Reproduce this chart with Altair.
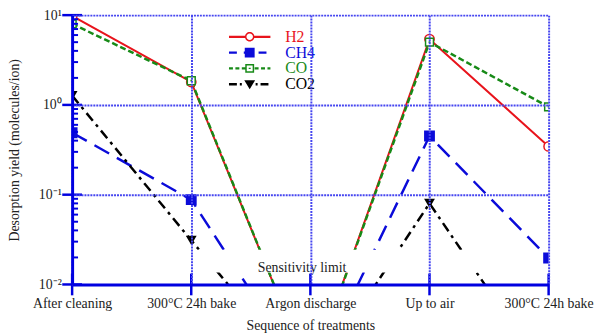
import json
import altair as alt
import pandas as pd

# ---------------- data ----------------
treatments = ["After cleaning", "300°C 24h bake", "Argon discharge", "Up to air", "300°C 24h bake"]
series = ["H2", "CH4", "CO", "CO2"]
h2 = [9.8, 1.8, 0.001, 5.4, 0.345]
ch4 = [0.49, 0.088, 0.0008, 0.45, 0.0197]
co = [8.0, 1.86, 0.001, 5.0, 0.95]
co2 = [1.27, 0.031, 0.0008, 0.080, 0.0009]

decade_ticks = [0.01, 0.1, 1, 10]
decade_labels = ["10⁻²", "10⁻¹", "10⁰", "10¹"]
minor_ticks = [m * 10.0 ** e for e in (-2, -1, 0) for m in range(2, 10)]

sensitivity_text = "Sensitivity limit"
sensitivity_band = [0.0136, 0.0244]
sensitivity_text_at = [1.93, 0.01393]

# ---------------- styles ----------------
FONT = "Liberation Serif"
colors = {"H2": "#e8141c", "CH4": "#0b0bd9", "CO": "#178a17", "CO2": "#000000"}
dashes = {"CH4": [17, 9], "CO": [6, 3], "CO2": [10, 5, 3, 5]}
widths = {"H2": 2, "CH4": 2.5, "CO": 2.5, "CO2": 2.5}
AXIS_BLUE = "#0000e0"
GRID_BLUE = "#4646f0"
W, H = 483, 273

rows = []
for s, vals in zip(series, [h2, ch4, co, co2]):
    for i, v in enumerate(vals):
        rows.append({"series": s, "step": i, "value": v})
df = pd.DataFrame(rows)

xs = alt.Scale(domain=[0, len(treatments) - 1], nice=False, zero=False)
ys = alt.Scale(type="log", domain=[decade_ticks[0], decade_ticks[-1]], nice=False)

x_label_expr = json.dumps(treatments, ensure_ascii=False) + "[datum.value]"
y_label_expr = " : ".join(
    f"abs(log(datum.value)/LN10 - ({e})) < 0.01 ? '{lab}'" for e, lab in zip([-2, -1, 0, 1], decade_labels)
) + " : ''"

xaxis = alt.Axis(
    values=list(range(len(treatments))), labelExpr=x_label_expr,
    grid=True, gridColor=GRID_BLUE, gridDash=[2, 1], gridWidth=2,
    domainColor=AXIS_BLUE, domainWidth=3, ticks=False,
    labelFont=FONT, labelFontSize=14, labelColor="#222222", labelPadding=12,
    labelFlush=False, labelOverlap=False,
    title="Sequence of treatments", titleFont=FONT, titleFontSize=14,
    titleFontWeight="normal", titleColor="#222222",
    titleX=W / 2, titleY=42, titleBaseline="middle", titleAlign="center", zindex=1,
)
yaxis = alt.Axis(
    values=decade_ticks, labelExpr=y_label_expr,
    grid=True, gridColor=GRID_BLUE, gridDash=[2, 1], gridWidth=2,
    domainColor=AXIS_BLUE, domainWidth=3, ticks=False,
    labelFont=FONT, labelFontSize=14, labelColor="#222222", labelPadding=11,
    labelFlush=False, labelOverlap=False,
    title="Desorption yield (molecules/ion)", titleFont=FONT, titleFontSize=14,
    titleFontWeight="normal", titleColor="#222222",
    titleX=-58, titleY=H / 2, titleAngle=270, titleBaseline="middle", titleAlign="center", zindex=1,
)


def X(field):
    return alt.X(field, type="quantitative", scale=xs, axis=xaxis)


def Y(field):
    return alt.Y(field, type="quantitative", scale=ys, axis=yaxis)


layers = []

# lines
for s in series:
    kw = dict(color=colors[s], strokeWidth=widths[s], clip=True)
    if s in dashes:
        kw["strokeDash"] = dashes[s]
    layers.append(
        alt.Chart(df).transform_filter(alt.datum.series == s)
        .mark_line(**kw).encode(x=X("step"), y=Y("value"))
    )

# sensitivity limit box + label
band_df = pd.DataFrame({"x0": [0], "x1": [len(treatments) - 1],
                        "y0": [sensitivity_band[0]], "y1": [sensitivity_band[1]]})
layers.append(
    alt.Chart(band_df).mark_rect(color="white", opacity=1)
    .encode(x=X("x0"), x2="x1", y=Y("y0"), y2="y1")
)
txt_df = pd.DataFrame({"x": [sensitivity_text_at[0]], "y": [sensitivity_text_at[1]], "t": [sensitivity_text]})
layers.append(
    alt.Chart(txt_df).mark_text(font=FONT, fontSize=14, color="#222222", align="center", baseline="alphabetic")
    .encode(x=X("x"), y=Y("y"), text="t:N")
)

# markers
def pts(s, **kw):
    return (alt.Chart(df).transform_filter(alt.datum.series == s)
            .mark_point(clip=True, opacity=1, **kw).encode(x=X("step"), y=Y("value")))

layers.append(pts("H2", shape="circle", size=90, fill="white", stroke=colors["H2"], strokeWidth=1.5, filled=False))
layers.append(pts("CH4", shape="square", size=121, filled=True, color=colors["CH4"], strokeWidth=0))
layers.append(pts("CO2", shape="triangle-down", size=120, filled=True, color=colors["CO2"], strokeWidth=0))
layers.append(pts("CO", shape="square", size=64, fill="white", stroke=colors["CO"], strokeWidth=1.5, filled=False))
layers.append(pts("CO", shape="square", size=3, filled=True, color=colors["CO"], strokeWidth=0))

# axis ticks (drawn crossing the axis lines)
xt_df = pd.DataFrame({"t": list(range(len(treatments)))})
layers.append(
    alt.Chart(xt_df).mark_rule(color=AXIS_BLUE, strokeWidth=2.5)
    .encode(x=X("t"), y=alt.value(H - 11), y2=alt.value(H + 11))
)
yt_df = pd.DataFrame({"t": decade_ticks})
layers.append(
    alt.Chart(yt_df).mark_rule(color=AXIS_BLUE, strokeWidth=2.5)
    .encode(y=Y("t"), x=alt.value(-10), x2=alt.value(10))
)
ym_df = pd.DataFrame({"t": minor_ticks})
layers.append(
    alt.Chart(ym_df).mark_rule(color=AXIS_BLUE, strokeWidth=2)
    .encode(y=Y("t"), x=alt.value(0), x2=alt.value(6))
)

# legend symbols: line sample + marker, as custom filled paths (1 unit = 1 px)
def bar(a, b, t):
    return f"M{a:.2f},{-t/2:.2f}H{b:.2f}V{t/2:.2f}H{a:.2f}Z"


def dashed(x0, x1, pattern, lo, hi, t):
    out, x, i = [], x0, 0
    while x < x1:
        end = min(x + pattern[i % len(pattern)], x1)
        if i % 2 == 0:
            for a, b in [(x, min(end, lo)), (max(x, hi), end)]:
                if b - a > 0.3:
                    out.append(bar(a, b, t))
        x, i = end, i + 1
    return "".join(out)


def ring_circle(R, r):
    return (f"M{R},0A{R},{R},0,1,1,{-R},0A{R},{R},0,1,1,{R},0Z"
            f"M{r},0A{r},{r},0,1,0,{-r},0A{r},{r},0,1,0,{r},0Z")


L = 21
legend_paths = [
    bar(-L, -4.6, 2.2) + bar(4.6, L, 2.2) + ring_circle(4.8, 3.3),
    dashed(-L, L, [8, 7], -5, 5, 2.4) + "M-5,-5H5V5H-5Z",
    dashed(-L, L, [4, 2.5], -4.5, 4.5, 2.4) + "M-4.5,-4.5H4.5V4.5H-4.5Z" + "M-3,-3V3H3V-3Z" + "M-1,-0.6H1V0.6H-1Z",
    dashed(-L, L, [8, 3, 2, 3], -5.5, 5.5, 2.4) + "M-5.5,-4L5.5,-4L0,5Z",
]
label_color_expr = " : ".join(f"datum.label === '{s}' ? '{colors[s]}'" for s in series) + " : '#000000'"
leg = alt.Legend(
    orient="none", legendX=172, legendY=14, title=None, padding=0,
    symbolSize=4, symbolStrokeWidth=0, symbolOpacity=1, labelOffset=28,
    labelFont=FONT, labelFontSize=16, labelColor=alt.ExprRef(expr=label_color_expr),
    rowPadding=0,
)
layers.append(
    alt.Chart(df).mark_point(filled=True, opacity=0, size=4)
    .encode(
        x=X("step"), y=Y("value"),
        shape=alt.Shape("series:N", scale=alt.Scale(domain=series, range=legend_paths), legend=leg),
        fill=alt.Fill("series:N", scale=alt.Scale(domain=series, range=[colors[s] for s in series]), legend=leg),
    )
)

chart = (
    alt.layer(*layers)
    .properties(width=W, height=H, autosize="none",
                padding={"left": 65, "top": 5, "right": 46, "bottom": 50})
    .configure_view(stroke=None)
)

chart.save("out.html", embed_options={"renderer": "svg", "actions": False})
